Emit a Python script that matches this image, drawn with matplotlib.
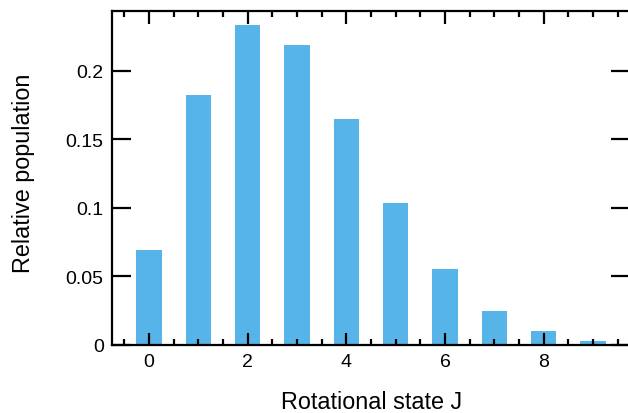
import matplotlib
matplotlib.use("Agg")
import matplotlib.pyplot as plt
from matplotlib.ticker import MultipleLocator, FuncFormatter

# Rotational state populations
states = [0, 1, 2, 3, 4, 5, 6, 7, 8, 9]
population = [0.0695, 0.1825, 0.2335, 0.219, 0.165, 0.1035, 0.0555, 0.025, 0.0102, 0.003]

plt.rcParams["font.family"] = ["Liberation Sans", "DejaVu Sans"]

fig = plt.figure(figsize=(6.28, 4.14), dpi=100)
ax = fig.add_axes([112 / 628, 1 - 346 / 414, (630 - 112) / 628, (346 - 12) / 414])

ax.bar(states, population, width=0.52, color="#56b4e9", edgecolor="none")

ax.set_xlim(-0.75, 9.75)
ax.set_ylim(0, 0.2435)

ax.xaxis.set_major_locator(MultipleLocator(2))
ax.xaxis.set_minor_locator(MultipleLocator(0.5))
ax.yaxis.set_major_locator(MultipleLocator(0.05))
ax.yaxis.set_major_formatter(FuncFormatter(lambda v, p: ("%g" % round(v, 4))))

for s in ax.spines.values():
    s.set_linewidth(1.6)
    s.set_color("black")

ax.tick_params(axis="x", which="major", direction="in", length=9, width=1.6,
               top=True, bottom=True, labelsize=14, pad=6)
ax.tick_params(axis="x", which="minor", direction="in", length=4, width=1.6,
               top=True, bottom=True)
ax.tick_params(axis="y", which="major", direction="in", length=14, width=1.6,
               left=True, right=True, labelsize=14, pad=6)

ax.set_xlabel("Rotational state J", fontsize=16.8)
ax.xaxis.set_label_coords((372 - 112) / 518, (346 - 391) / 334)

ax.set_ylabel("Relative population", fontsize=16.8)
ax.yaxis.label.set_va("center")
ax.yaxis.set_label_coords((24 - 112) / 518, (346 - 173) / 334)

fig.savefig("out.png", dpi=100)
